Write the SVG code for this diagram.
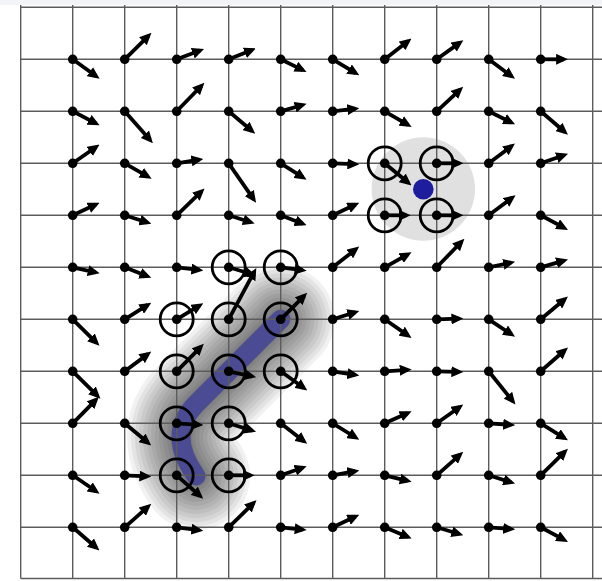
<svg xmlns="http://www.w3.org/2000/svg" xmlns:xlink="http://www.w3.org/1999/xlink" width="602" height="581" viewBox="0 0 602 581">
<style>
.grid line{stroke:#5c5c5c;stroke-width:1.4}
.n circle.d{fill:#000}
.n path{stroke:#000;stroke-width:3.8;fill:none;marker-end:url(#ah)}
.ring{fill:none;stroke:#000;stroke-width:2.8}
.halo{fill:none;stroke:#000;stroke-opacity:0.055;stroke-linecap:round;stroke-linejoin:round}
</style>
<defs>
<marker id="ah" markerUnits="userSpaceOnUse" markerWidth="12" markerHeight="11" viewBox="0 0 12 11" refX="7.8" refY="5.5" orient="auto"><path d="M0,0 L12,5.5 L0,11 z" fill="#000"/></marker>
<path id="trail" d="M280.7 319.3 L196 404 Q166 434 196 476"/>
</defs>
<rect width="602" height="581" fill="#fff"/>
<rect width="602" height="5" fill="#f3f4f8"/>
<g id="blobs">
<circle cx="423.3" cy="189" r="51.7" fill="#e0e0e0"/>
<use xlink:href="#trail" class="halo" stroke-width="108"/>
<use xlink:href="#trail" class="halo" stroke-width="100"/>
<use xlink:href="#trail" class="halo" stroke-width="92"/>
<use xlink:href="#trail" class="halo" stroke-width="84"/>
<use xlink:href="#trail" class="halo" stroke-width="76"/>
<use xlink:href="#trail" class="halo" stroke-width="68"/>
<use xlink:href="#trail" class="halo" stroke-width="60"/>
<use xlink:href="#trail" class="halo" stroke-width="52"/>
<use xlink:href="#trail" class="halo" stroke-width="44"/>
<use xlink:href="#trail" class="halo" stroke-width="36"/>
<use xlink:href="#trail" class="halo" stroke-width="28"/>
<use xlink:href="#trail" class="halo" stroke-width="22"/>
<use xlink:href="#trail" fill="none" stroke="#2a2aa2" stroke-opacity="0.6" stroke-width="19" stroke-linecap="round" stroke-linejoin="round"/>
<circle cx="423.3" cy="189.3" r="10.3" fill="#1d1d9e"/>
</g>
<g class="grid">
<line x1="20.7" y1="5" x2="20.7" y2="578.5"/><line x1="72.7" y1="5" x2="72.7" y2="578.5"/><line x1="124.7" y1="5" x2="124.7" y2="578.5"/><line x1="176.7" y1="5" x2="176.7" y2="578.5"/><line x1="228.7" y1="5" x2="228.7" y2="578.5"/><line x1="280.7" y1="5" x2="280.7" y2="578.5"/><line x1="332.7" y1="5" x2="332.7" y2="578.5"/><line x1="384.7" y1="5" x2="384.7" y2="578.5"/><line x1="436.7" y1="5" x2="436.7" y2="578.5"/><line x1="488.7" y1="5" x2="488.7" y2="578.5"/><line x1="540.7" y1="5" x2="540.7" y2="578.5"/><line x1="592.7" y1="5" x2="592.7" y2="578.5"/>
<line x1="20.7" y1="7.3" x2="602" y2="7.3"/><line x1="20.7" y1="59.3" x2="602" y2="59.3"/><line x1="20.7" y1="111.3" x2="602" y2="111.3"/><line x1="20.7" y1="163.3" x2="602" y2="163.3"/><line x1="20.7" y1="215.3" x2="602" y2="215.3"/><line x1="20.7" y1="267.3" x2="602" y2="267.3"/><line x1="20.7" y1="319.3" x2="602" y2="319.3"/><line x1="20.7" y1="371.3" x2="602" y2="371.3"/><line x1="20.7" y1="423.3" x2="602" y2="423.3"/><line x1="20.7" y1="475.3" x2="602" y2="475.3"/><line x1="20.7" y1="527.3" x2="602" y2="527.3"/><line x1="20.7" y1="578.5" x2="602" y2="578.5"/>
</g>
<g id="nodes">
<g id="r0c0" class="n" transform="translate(72.7 59.3)"><circle class="d" r="4.8"/><path d="M0 0l23.5 16.9"/></g>
<g id="r0c1" class="n" transform="translate(124.7 59.3)"><circle class="d" r="4.8"/><path d="M0 0l23.8 -23.5"/></g>
<g id="r0c2" class="n" transform="translate(176.7 59.3)"><circle class="d" r="4.8"/><path d="M0 0l23.4 -8.8"/></g>
<g id="r0c3" class="n" transform="translate(228.7 59.3)"><circle class="d" r="4.8"/><path d="M0 0l23.4 -9.4"/></g>
<g id="r0c4" class="n" transform="translate(280.7 59.3)"><circle class="d" r="4.8"/><path d="M0 0l22.1 10.8"/></g>
<g id="r0c5" class="n" transform="translate(332.7 59.3)"><circle class="d" r="4.8"/><path d="M0 0l23 13.9"/></g>
<g id="r0c6" class="n" transform="translate(384.7 59.3)"><circle class="d" r="4.8"/><path d="M0 0l23.5 -18.2"/></g>
<g id="r0c7" class="n" transform="translate(436.7 59.3)"><circle class="d" r="4.8"/><path d="M0 0l23.2 -16.7"/></g>
<g id="r0c8" class="n" transform="translate(488.7 59.3)"><circle class="d" r="4.8"/><path d="M0 0l22.9 16.9"/></g>
<g id="r0c9" class="n" transform="translate(540.7 59.3)"><circle class="d" r="4.8"/><path d="M0 0l23.2 0"/></g>

<g id="r1c0" class="n" transform="translate(72.7 111.3)"><circle class="d" r="4.8"/><path d="M0 0l23.2 12.1"/></g>
<g id="r1c1" class="n" transform="translate(124.7 111.3)"><circle class="d" r="4.8"/><path d="M0 0l25.4 28.7"/></g>
<g id="r1c2" class="n" transform="translate(176.7 111.3)"><circle class="d" r="4.8"/><path d="M0 0l24.8 -25.5"/></g>
<g id="r1c3" class="n" transform="translate(228.7 111.3)"><circle class="d" r="4.8"/><path d="M0 0l23.3 19.7"/></g>
<g id="r1c4" class="n" transform="translate(280.7 111.3)"><circle class="d" r="4.8"/><path d="M0 0l21.9 -6.3"/></g>
<g id="r1c5" class="n" transform="translate(332.7 111.3)"><circle class="d" r="4.8"/><path d="M0 0l22.5 -2.6"/></g>
<g id="r1c6" class="n" transform="translate(384.7 111.3)"><circle class="d" r="4.8"/><path d="M0 0l23.3 13.5"/></g>
<g id="r1c7" class="n" transform="translate(436.7 111.3)"><circle class="d" r="4.8"/><path d="M0 0l23.4 -21.6"/></g>
<g id="r1c8" class="n" transform="translate(488.7 111.3)"><circle class="d" r="4.8"/><path d="M0 0l22.6 11.2"/></g>
<g id="r1c9" class="n" transform="translate(540.7 111.3)"><circle class="d" r="4.8"/><path d="M0 0l24.1 20.7"/></g>

<g id="r2c0" class="n" transform="translate(72.7 163.3)"><circle class="d" r="4.8"/><path d="M0 0l23.4 -16.3"/></g>
<g id="r2c1" class="n" transform="translate(124.7 163.3)"><circle class="d" r="4.8"/><path d="M0 0l23.3 13.3"/></g>
<g id="r2c2" class="n" transform="translate(176.7 163.3)"><circle class="d" r="4.8"/><path d="M0 0l22.5 -3.7"/></g>
<g id="r2c3" class="n" transform="translate(228.7 163.3)"><circle class="d" r="4.8"/><path d="M0 0l25 36.1"/></g>
<g id="r2c4" class="n" transform="translate(280.7 163.3)"><circle class="d" r="4.8"/><path d="M0 0l22.3 14.1"/></g>
<g id="r2c5" class="n" transform="translate(332.7 163.3)"><circle class="d" r="4.8"/><path d="M0 0l22.5 0.9"/></g>
<g id="r2c6" class="n" transform="translate(384.7 163.3)"><circle class="ring" r="16.5"/><circle class="d" r="4.8"/><path d="M0 0l23.6 19.5"/></g>
<g id="r2c7" class="n" transform="translate(436.7 163.3)"><circle class="ring" r="16.5"/><circle class="d" r="4.8"/><path d="M0 0l22.5 0"/></g>
<g id="r2c8" class="n" transform="translate(488.7 163.3)"><circle class="d" r="4.8"/><path d="M0 0l22.9 -17.2"/></g>
<g id="r2c9" class="n" transform="translate(540.7 163.3)"><circle class="d" r="4.8"/><path d="M0 0l23.4 -8.1"/></g>

<g id="r3c0" class="n" transform="translate(72.7 215.3)"><circle class="d" r="4.8"/><path d="M0 0l23.1 -10.8"/></g>
<g id="r3c1" class="n" transform="translate(124.7 215.3)"><circle class="d" r="4.8"/><path d="M0 0l22.7 7.2"/></g>
<g id="r3c2" class="n" transform="translate(176.7 215.3)"><circle class="d" r="4.8"/><path d="M0 0l24.8 -23.9"/></g>
<g id="r3c3" class="n" transform="translate(228.7 215.3)"><circle class="d" r="4.8"/><path d="M0 0l22 6.9"/></g>
<g id="r3c4" class="n" transform="translate(280.7 215.3)"><circle class="d" r="4.8"/><path d="M0 0l22 8.4"/></g>
<g id="r3c5" class="n" transform="translate(332.7 215.3)"><circle class="d" r="4.8"/><path d="M0 0l22.8 -10.8"/></g>
<g id="r3c6" class="n" transform="translate(384.7 215.3)"><circle class="ring" r="16.5"/><circle class="d" r="4.8"/><path d="M0 0l21.8 0"/></g>
<g id="r3c7" class="n" transform="translate(436.7 215.3)"><circle class="ring" r="16.5"/><circle class="d" r="4.8"/><path d="M0 0l22.5 0"/></g>
<g id="r3c8" class="n" transform="translate(488.7 215.3)"><circle class="d" r="4.8"/><path d="M0 0l23.5 -17.6"/></g>
<g id="r3c9" class="n" transform="translate(540.7 215.3)"><circle class="d" r="4.8"/><path d="M0 0l23.6 12.6"/></g>

<g id="r4c0" class="n" transform="translate(72.7 267.3)"><circle class="d" r="4.8"/><path d="M0 0l22.9 5"/></g>
<g id="r4c1" class="n" transform="translate(124.7 267.3)"><circle class="d" r="4.8"/><path d="M0 0l22.7 9"/></g>
<g id="r4c2" class="n" transform="translate(176.7 267.3)"><circle class="d" r="4.8"/><path d="M0 0l22.5 2.6"/></g>
<g id="r4c3" class="n" transform="translate(228.7 267.3)"><circle class="ring" r="16.5"/><circle class="d" r="4.8"/><path d="M0 0l23.4 7"/></g>
<g id="r4c4" class="n" transform="translate(280.7 267.3)"><circle class="ring" r="16.5"/><circle class="d" r="4.8"/><path d="M0 0l21.8 2.8"/></g>
<g id="r4c5" class="n" transform="translate(332.7 267.3)"><circle class="d" r="4.8"/><path d="M0 0l23.2 -18.1"/></g>
<g id="r4c6" class="n" transform="translate(384.7 267.3)"><circle class="d" r="4.8"/><path d="M0 0l23.2 -13"/></g>
<g id="r4c7" class="n" transform="translate(436.7 267.3)"><circle class="d" r="4.8"/><path d="M0 0l24.8 -25.5"/></g>
<g id="r4c8" class="n" transform="translate(488.7 267.3)"><circle class="d" r="4.8"/><path d="M0 0l22.3 -4.6"/></g>
<g id="r4c9" class="n" transform="translate(540.7 267.3)"><circle class="d" r="4.8"/><path d="M0 0l23.3 -6.7"/></g>

<g id="r5c0" class="n" transform="translate(72.7 319.3)"><circle class="d" r="4.8"/><path d="M0 0l23.8 23.5"/></g>
<g id="r5c1" class="n" transform="translate(124.7 319.3)"><circle class="d" r="4.8"/><path d="M0 0l23 -14.4"/></g>
<g id="r5c2" class="n" transform="translate(176.7 319.3)"><circle class="ring" r="16.5"/><circle class="d" r="4.8"/><path d="M0 0l23 -13.9"/></g>
<g id="r5c3" class="n" transform="translate(228.7 319.3)"><circle class="ring" r="16.5"/><circle class="d" r="4.8"/><path d="M0 0l25.6 -47.6"/></g>
<g id="r5c4" class="n" transform="translate(280.7 319.3)"><circle class="ring" r="16.5"/><circle class="d" r="4.8"/><path d="M0 0l23.5 -23.5"/></g>
<g id="r5c5" class="n" transform="translate(332.7 319.3)"><circle class="d" r="4.8"/><path d="M0 0l22.6 -7"/></g>
<g id="r5c6" class="n" transform="translate(384.7 319.3)"><circle class="d" r="4.8"/><path d="M0 0l23.4 16.3"/></g>
<g id="r5c7" class="n" transform="translate(436.7 319.3)"><circle class="d" r="4.8"/><path d="M0 0l22.5 -0.6"/></g>
<g id="r5c8" class="n" transform="translate(488.7 319.3)"><circle class="d" r="4.8"/><path d="M0 0l22.8 15.1"/></g>
<g id="r5c9" class="n" transform="translate(540.7 319.3)"><circle class="d" r="4.8"/><path d="M0 0l24 -20"/></g>

<g id="r6c0" class="n" transform="translate(72.7 371.3)"><circle class="d" r="4.8"/><path d="M0 0l24.8 24.5"/></g>
<g id="r6c1" class="n" transform="translate(124.7 371.3)"><circle class="d" r="4.8"/><path d="M0 0l23.2 -17.2"/></g>
<g id="r6c2" class="n" transform="translate(176.7 371.3)"><circle class="ring" r="16.5"/><circle class="d" r="4.8"/><path d="M0 0l24.2 -24.5"/></g>
<g id="r6c3" class="n" transform="translate(228.7 371.3)"><circle class="ring" r="16.5"/><circle class="d" r="4.8"/><path d="M0 0l23.3 5"/></g>
<g id="r6c4" class="n" transform="translate(280.7 371.3)"><circle class="ring" r="16.5"/><circle class="d" r="4.8"/><path d="M0 0l23.2 16.7"/></g>
<g id="r6c5" class="n" transform="translate(332.7 371.3)"><circle class="d" r="4.8"/><path d="M0 0l22.5 3.5"/></g>
<g id="r6c6" class="n" transform="translate(384.7 371.3)"><circle class="d" r="4.8"/><path d="M0 0l22.8 -1.5"/></g>
<g id="r6c7" class="n" transform="translate(436.7 371.3)"><circle class="d" r="4.8"/><path d="M0 0l22.5 0.6"/></g>
<g id="r6c8" class="n" transform="translate(488.7 371.3)"><circle class="d" r="4.8"/><path d="M0 0l24.1 30"/></g>
<g id="r6c9" class="n" transform="translate(540.7 371.3)"><circle class="d" r="4.8"/><path d="M0 0l24.1 -21"/></g>

<g id="r7c0" class="n" transform="translate(72.7 423.3)"><circle class="d" r="4.8"/><path d="M0 0l23.2 -23.5"/></g>
<g id="r7c1" class="n" transform="translate(124.7 423.3)"><circle class="d" r="4.8"/><path d="M0 0l23.3 19.5"/></g>
<g id="r7c2" class="n" transform="translate(176.7 423.3)"><circle class="ring" r="16.5"/><circle class="d" r="4.8"/><path d="M0 0l22.5 1.5"/></g>
<g id="r7c3" class="n" transform="translate(228.7 423.3)"><circle class="ring" r="16.5"/><circle class="d" r="4.8"/><path d="M0 0l23.4 7.3"/></g>
<g id="r7c4" class="n" transform="translate(280.7 423.3)"><circle class="d" r="4.8"/><path d="M0 0l23.2 17.9"/></g>
<g id="r7c5" class="n" transform="translate(332.7 423.3)"><circle class="d" r="4.8"/><path d="M0 0l23 14.2"/></g>
<g id="r7c6" class="n" transform="translate(384.7 423.3)"><circle class="d" r="4.8"/><path d="M0 0l23.1 -10.3"/></g>
<g id="r7c7" class="n" transform="translate(436.7 423.3)"><circle class="d" r="4.8"/><path d="M0 0l23.1 -16.3"/></g>
<g id="r7c8" class="n" transform="translate(488.7 423.3)"><circle class="d" r="4.8"/><path d="M0 0l22.3 1.5"/></g>
<g id="r7c9" class="n" transform="translate(540.7 423.3)"><circle class="d" r="4.8"/><path d="M0 0l23.7 14.8"/></g>

<g id="r8c0" class="n" transform="translate(72.7 475.3)"><circle class="d" r="4.8"/><path d="M0 0l23.4 16"/></g>
<g id="r8c1" class="n" transform="translate(124.7 475.3)"><circle class="d" r="4.8"/><path d="M0 0l22.5 1.1"/></g>
<g id="r8c2" class="n" transform="translate(176.7 475.3)"><circle class="ring" r="16.5"/><circle class="d" r="4.8"/><path d="M0 0l23.4 20.7"/></g>
<g id="r8c3" class="n" transform="translate(228.7 475.3)"><circle class="ring" r="16.5"/><circle class="d" r="4.8"/><path d="M0 0l21.8 0"/></g>
<g id="r8c4" class="n" transform="translate(280.7 475.3)"><circle class="d" r="4.8"/><path d="M0 0l22 -7.6"/></g>
<g id="r8c5" class="n" transform="translate(332.7 475.3)"><circle class="d" r="4.8"/><path d="M0 0l22.5 -4.1"/></g>
<g id="r8c6" class="n" transform="translate(384.7 475.3)"><circle class="d" r="4.8"/><path d="M0 0l22.9 5.5"/></g>
<g id="r8c7" class="n" transform="translate(436.7 475.3)"><circle class="d" r="4.8"/><path d="M0 0l23.4 -20.7"/></g>
<g id="r8c8" class="n" transform="translate(488.7 475.3)"><circle class="d" r="4.8"/><path d="M0 0l22.4 7"/></g>
<g id="r8c9" class="n" transform="translate(540.7 475.3)"><circle class="d" r="4.8"/><path d="M0 0l24.2 -23.6"/></g>

<g id="r9c0" class="n" transform="translate(72.7 527.3)"><circle class="d" r="4.8"/><path d="M0 0l23.6 20.4"/></g>
<g id="r9c1" class="n" transform="translate(124.7 527.3)"><circle class="d" r="4.8"/><path d="M0 0l23.4 -20.7"/></g>
<g id="r9c2" class="n" transform="translate(176.7 527.3)"><circle class="d" r="4.8"/><path d="M0 0l22.5 2.9"/></g>
<g id="r9c3" class="n" transform="translate(228.7 527.3)"><circle class="d" r="4.8"/><path d="M0 0l24.8 -24.2"/></g>
<g id="r9c4" class="n" transform="translate(280.7 527.3)"><circle class="d" r="4.8"/><path d="M0 0l21.8 2.3"/></g>
<g id="r9c5" class="n" transform="translate(332.7 527.3)"><circle class="d" r="4.8"/><path d="M0 0l22.8 -10.8"/></g>
<g id="r9c6" class="n" transform="translate(384.7 527.3)"><circle class="d" r="4.8"/><path d="M0 0l23.1 9.6"/></g>
<g id="r9c7" class="n" transform="translate(436.7 527.3)"><circle class="d" r="4.8"/><path d="M0 0l22.6 6.7"/></g>
<g id="r9c8" class="n" transform="translate(488.7 527.3)"><circle class="d" r="4.8"/><path d="M0 0l22.3 1.7"/></g>
<g id="r9c9" class="n" transform="translate(540.7 527.3)"><circle class="d" r="4.8"/><path d="M0 0l23.6 12.6"/></g>
</g>
</svg>
